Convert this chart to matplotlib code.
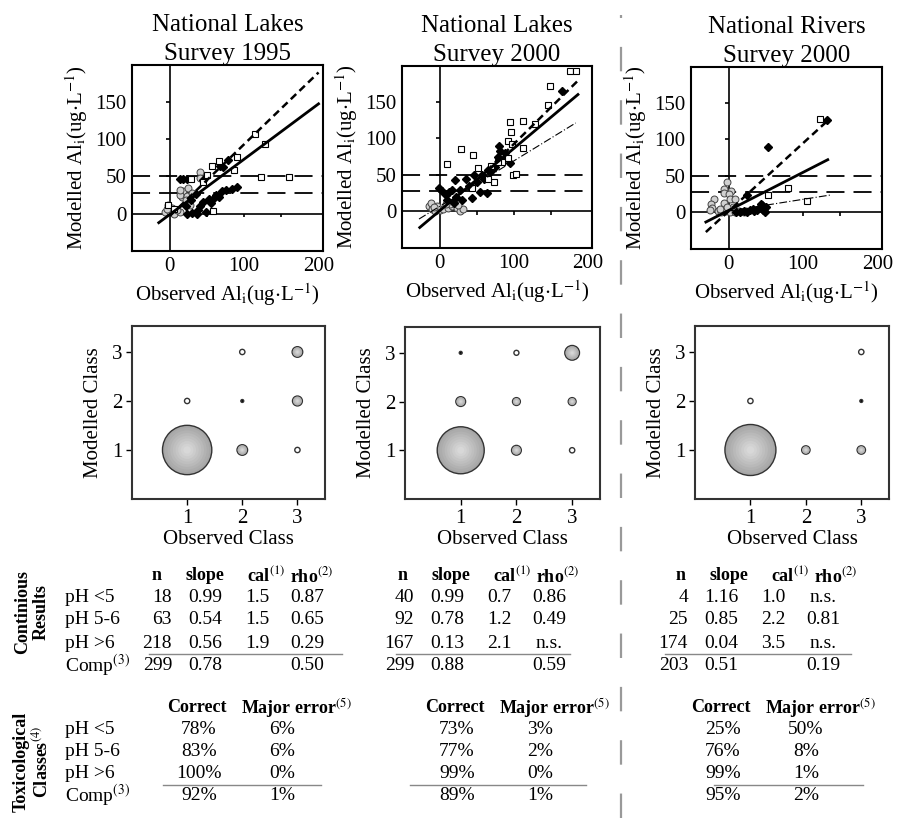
import numpy as np
import matplotlib
matplotlib.use("Agg")
import matplotlib.pyplot as plt
from matplotlib.lines import Line2D
from matplotlib.colors import to_rgb

plt.rcParams["font.family"] = ["Liberation Serif", "DejaVu Serif"]
plt.rcParams["mathtext.fontset"] = "stix"

W, H = 905, 818

# ---------------- data ----------------
titles = ["National Lakes\nSurvey 1995", "National Lakes\nSurvey 2000", "National Rivers\nSurvey 2000"]

# observed vs modelled Al_i (ug/L)
sq_x = [
    [115, 128, 90, 66, 57, 86, 123, 160, 28, 58, 50, 45, -2, 5],
    [176, 185, 149, 146, 129, 95, 112, 96, 93, 98, 112, 29, 45, 10, 93, 84, 79, 99, 103, 74, 65, 52, 69, 44],
    [122, 80, 52, 105],
]
sq_y = [
    [107, 93, 76, 71, 64, 58, 49, 49, 46, 4, 52, 42, 12, 6],
    [192, 192, 171, 146, 120, 123, 124, 109, 97, 92, 87, 86, 77, 65, 73, 67, 68, 50, 51, 40, 45, 60, 62, 32],
    [128, 34, 24, 15],
]
dia_x = [
    [90, 83, 76, 70, 66, 59, 52, 45, 41, 38, 37, 30, 23, 18, 13, 23, 71, 78, 68, 45, 35, 28, 22, 48, 55, 62],
    [166, 80, 81, 79, 95, 75, 65, 57, 46, 35, 21, 64, 44, 54, -1, 3, 8, 12, 17, 22, 30, 20, 10, 40, 50, 28, 60, 70, 88, 85],
    [132, 53, 24, 44, 47, 29, 34, 38, 46, 49, 20, 25, 42, 50, 15, 32, 43, 10],
]
dia_y = [
    [36, 33, 32, 30, 22, 21, 20, 16, 10, 5, -1, 1, 0, 47, 47, 46, 62, 72, 64, 45, 26, 18, 10, 2, 14, 25],
    [165, 89, 83, 75, 66, 61, 57, 50, 50, 45, 43, 25, 18, 27, 32, 28, 23, 26, 29, 20, 15, 12, 15, 35, 40, 30, 45, 55, 80, 70],
    [126, 90, 24, 10, 5, 3, 2, 4, 3, 1, 2, 1, 7, 8, 1, 5, 12, 1],
]
circ_x = [
    [-7, 0, 6, 13, -2, 3, 16, 18, 14, 23, 41, 40, 14, 25, 21, 9, 27, -4, 30],
    [-14, -10, -6, 0, 5, 11, 16, 23, 28, 20, 14, -12, -3, 8, 32, 25, -8],
    [-2, -7, -6, 3, 0, 2, 8, -20, -6, -24, -23, -15, -10, -4, 2, 8, 13, 20, -26, -12, 5, -2],
]
circ_y = [
    [2, 2, 0, 2, 12, 8, 22, 30, 25, 23, 56, 48, 32, 34, 18, 5, 12, 6, 28],
    [7, 3, 1, 2, 4, 5, 7, 5, 1, 12, 10, 11, 8, 10, 4, 9, 6],
    [42, 32, 26, 30, 25, 18, 18, 18, 13, 11, 6, 2, 1, 2, 1, 1, 2, 1, 3, 5, 8, 7],
]

# regression lines: (slope, intercept, x start, x end)
fit_solid = [(0.74, -1, -15, 200), (0.85, 1, -27, 187), (0.52, 3, -31, 133)]
fit_dashed = [(0.96, -3, 0, 200), (1.00, -8, 40, 188), (0.93, 2, -31, 130)]
fit_dashdot = [None, (0.62, 7, -28, 184), (0.16, 2, -3, 137)]
thresholds = [50, 28]

# class agreement (% of samples): observed class, modelled class, percent
cls_obs = [
    [1, 2, 3, 1, 2, 3, 2, 3],
    [1, 2, 3, 1, 2, 3, 1, 2, 3],
    [1, 2, 3, 1, 3, 3],
]
cls_mod = [
    [1, 1, 1, 2, 2, 2, 3, 3],
    [1, 1, 1, 2, 2, 2, 3, 3, 3],
    [1, 1, 1, 2, 2, 3],
]
cls_pct = [
    [87, 4, 1, 1, 0.3, 3.5, 1, 4],
    [79, 3.4, 1, 3.4, 2.2, 2.2, 0.3, 0.9, 7.7],
    [93, 2.5, 2.5, 1, 0.3, 1],
]

row_labels = ["pH <5", "pH 5-6", "pH >6", "Comp$^{(3)}$"]
cont_n = [["18", "63", "218", "299"], ["40", "92", "167", "299"], ["4", "25", "174", "203"]]
cont_slope = [["0.99", "0.54", "0.56", "0.78"], ["0.99", "0.78", "0.13", "0.88"], ["1.16", "0.85", "0.04", "0.51"]]
cont_cal = [["1.5", "1.5", "1.9", ""], ["0.7", "1.2", "2.1", ""], ["1.0", "2.2", "3.5", ""]]
cont_rho = [["0.87", "0.65", "0.29", "0.50"], ["0.86", "0.49", "n.s.", "0.59"], ["n.s.", "0.81", "n.s.", "0.19"]]
tox_correct = [["78%", "83%", "100%", "92%"], ["73%", "77%", "99%", "89%"], ["25%", "76%", "99%", "95%"]]
tox_major = [["6%", "6%", "0%", "1%"], ["3%", "2%", "0%", "1%"], ["50%", "8%", "1%", "2%"]]

# ---------------- layout (pixels) ----------------
scatter_boxes = [(132, 65, 323, 251), (402, 66, 592, 248), (691, 67, 882, 249)]
bubble_boxes = [(132, 326, 325, 499), (405, 327, 600, 499), (695, 326, 889, 499)]
cont_val_off = [0, 242, 516]
cont_head_off = [0, 246, 524]
tox_off = [0, 258, 524]
cont_rule = [(149, 342), (396, 570), (665, 851)]
tox_rule = [(163, 321), (410, 586), (714, 863)]


def add_px_axes(fig, box):
    l, t, r, b = box
    return fig.add_axes([l / W, 1 - b / H, (r - l) / W, (b - t) / H])


def ftext(fig, x, y, s, **kw):
    kw.setdefault("fontsize", 14)
    kw.setdefault("va", "center")
    return fig.text(x / W, 1 - y / H, s, **kw)


def main():
    fig = plt.figure(figsize=(W / 100, H / 100), dpi=100)

    # ---- top row: scatter plots ----
    for i in range(3):
        ax = add_px_axes(fig, scatter_boxes[i])
        ax.set_xlim(-51, 206)
        ax.set_ylim(-50, 199)
        for sp in ax.spines.values():
            sp.set_linewidth(1.5)
        ax.axhline(0, color="black", lw=1.2, zorder=1)
        ax.axvline(0, color="black", lw=1.2, zorder=1)
        for t in thresholds:
            ax.axhline(t, color="black", lw=1.3, ls=(0, (10, 5)), zorder=1)
        inner = [50, 100, 150]
        ax.vlines(inner, -5, 0, color="black", lw=1.2)
        ax.hlines(inner, -5, 0, color="black", lw=1.2)

        ax.plot(circ_x[i], circ_y[i], "o", ms=5, mfc="#d0d0d0", mec="#444444", mew=0.7, ls="none", zorder=3)
        ax.plot(dia_x[i], dia_y[i], "D", ms=3.8, color="black", ls="none", zorder=3)
        ax.plot(sq_x[i], sq_y[i], "s", ms=5, mfc="white", mec="black", mew=0.8, ls="none", zorder=3)

        for fit, style in ((fit_solid[i], dict(lw=2.0, ls="-")),
                           (fit_dashed[i], dict(lw=1.8, ls=(0, (3, 1.8)))),
                           (fit_dashdot[i], dict(lw=0.8, ls=(0, (7, 2, 1, 2))))):
            if fit is None:
                continue
            m, c, x0, x1 = fit
            xs = np.array([x0, x1])
            ax.plot(xs, m * xs + c, color="black", zorder=4, **style)

        ax.set_xticks([0, 100, 200])
        ax.set_yticks([0, 50, 100, 150])
        ax.tick_params(length=0, labelsize=15, pad=4)
        ax.set_xlabel(r"Observed Al$_{\mathrm{i}}$(ug$\cdot$L$^{\mathrm{-1}}$)", fontsize=15, labelpad=4)
        ax.set_ylabel(r"Modelled Al$_{\mathrm{i}}$(ug$\cdot$L$^{\mathrm{-1}}$)", fontsize=15, labelpad=4)
        ax.set_title(titles[i], fontsize=18, pad=3, linespacing=1.4)

    # ---- middle row: class agreement bubbles ----
    k = 14.5
    grey = np.array(to_rgb("#a6a6a6"))
    light = np.array(to_rgb("#dcdcdc"))
    for i in range(3):
        ax = add_px_axes(fig, bubble_boxes[i])
        ax.set_xlim(0, 3.5)
        ax.set_ylim(0, 3.53)
        for sp in ax.spines.values():
            sp.set_linewidth(1.5)
            sp.set_color("#333333")
        pct = np.array(cls_pct[i])
        ox = np.array(cls_obs[i])
        oy = np.array(cls_mod[i])
        face = ["black" if p <= 0.5 else ("white" if p <= 1.2 else "#a6a6a6") for p in pct]
        ax.scatter(ox, oy, s=k * pct, c=face, edgecolors="#333333", linewidths=1.0, zorder=3)
        big = pct > 1.2
        for f in np.linspace(0.9, 0.15, 8):
            col = grey + (light - grey) * (1 - f) * 1.1
            col = np.clip(col, 0, 1)
            ax.scatter(ox[big], oy[big], s=k * pct[big] * f ** 2, color=col, linewidths=0, zorder=4)
        ax.set_xticks([1, 2, 3])
        ax.set_yticks([1, 2, 3])
        ax.tick_params(length=4, width=1, labelsize=15, pad=3)
        ax.set_xlabel("Observed Class", fontsize=15, labelpad=2)
        ax.set_ylabel("Modelled Class", fontsize=15, labelpad=6)

    # ---- bottom: tables ----
    cont_rows_y = [598, 620, 643, 665]
    tox_rows_y = [730, 752, 773, 795]
    for r, lab in enumerate(row_labels):
        ftext(fig, 65, cont_rows_y[r], lab, ha="left")
        ftext(fig, 65, tox_rows_y[r], lab, ha="left")

    hdr = dict(fontweight="bold", fontsize=13)
    for i in range(3):
        ho = cont_head_off[i]
        ftext(fig, 157 + ho, 576, "n", ha="center", **hdr)
        ftext(fig, 205 + ho, 576, "slope", ha="center", **hdr)
        ftext(fig, 266 + ho, 576, r"cal$^{(1)}$", ha="center", **hdr)
        ftext(fig, 312 + ho, 576, r"rho$^{(2)}$", ha="center", **hdr)
        vo = cont_val_off[i]
        for r in range(4):
            y = cont_rows_y[r]
            ftext(fig, 172 + vo, y, cont_n[i][r], ha="right")
            ftext(fig, 205 + vo, y, cont_slope[i][r], ha="center")
            ftext(fig, 257 + vo, y, cont_cal[i][r], ha="center")
            ftext(fig, 307 + vo, y, cont_rho[i][r], ha="center")
        x0, x1 = cont_rule[i]
        fig.add_artist(Line2D([x0 / W, x1 / W], [1 - 654 / H] * 2, color="#888888", lw=1))

        to = tox_off[i]
        ftext(fig, 197 + to, 708, "Correct", ha="center", **hdr)
        ftext(fig, 241 + to, 708, r"Major error$^{(5)}$", ha="left", **hdr)
        for r in range(4):
            y = tox_rows_y[r]
            ftext(fig, 199 + to, y, tox_correct[i][r], ha="center")
            ftext(fig, 282 + to, y, tox_major[i][r], ha="center")
        x0, x1 = tox_rule[i]
        fig.add_artist(Line2D([x0 / W, x1 / W], [1 - 785 / H] * 2, color="#888888", lw=1))

    ftext(fig, 32, 612, "Continious\nResults", ha="center", rotation=90,
          fontweight="bold", fontsize=13, linespacing=1.1)
    ftext(fig, 32, 762, "Toxicological\nClasses$^{(4)}$", ha="center", rotation=90,
          fontweight="bold", fontsize=13, linespacing=1.1)

    # grey dashed separator between lakes and rivers
    fig.add_artist(Line2D([621 / W, 621 / W], [0, 1 - 15 / H], color="#999999", lw=1.6,
                          ls=(0, (11, 13))))

    fig.savefig("out.png", dpi=100)
    plt.close(fig)


if __name__ == "__main__":
    main()
